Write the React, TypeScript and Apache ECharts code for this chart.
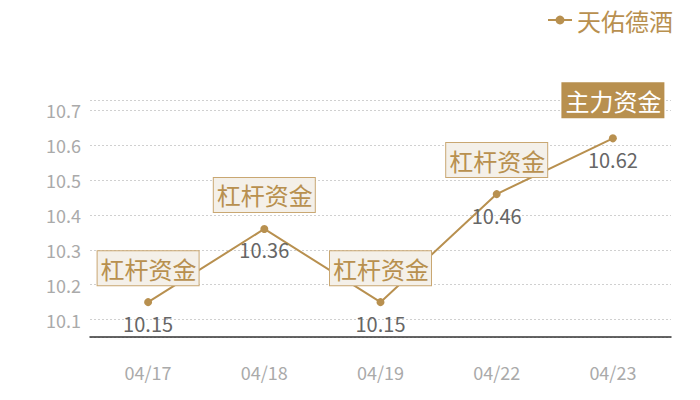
import React, { useEffect, useRef } from 'react'
import * as echarts from 'echarts'

const dates = ['04/17', '04/18', '04/19', '04/22', '04/23']
const prices = [10.15, 10.36, 10.15, 10.46, 10.62]
const flowTags = ['杠杆资金', '杠杆资金', '杠杆资金', '杠杆资金', '主力资金']
const seriesName = '天佑德酒'

const gold = '#b8904f'
const font = '"Noto Sans CJK SC", "Microsoft YaHei", sans-serif'

export default function App() {
  const chartRef = useRef<HTMLDivElement>(null)

  useEffect(() => {
    if (!chartRef.current) {
      return
    }
    const chart = echarts.init(chartRef.current, null, { renderer: 'svg' })

    const markData = flowTags.map((tag, i) => {
      const main = tag === '主力资金'
      return {
        name: tag,
        coord: [dates[i], prices[i]],
        symbolSize: 0,
        label: {
          show: true,
          position: 'top',
          distance: main ? 21 : 17,
          formatter: '{b}',
          fontFamily: font,
          fontSize: 24,
          lineHeight: 28,
          color: main ? '#ffffff' : gold,
          backgroundColor: main ? gold : '#f4f0e9',
          borderColor: main ? gold : '#c9a772',
          borderWidth: 1,
          padding: [3, 2, 3, 3]
        }
      }
    })

    const option = {
      animation: false,
      textStyle: { fontFamily: font },
      legend: {
        right: 22,
        top: 3,
        itemWidth: 24,
        itemHeight: 11,
        itemGap: 5,
        data: [seriesName],
        textStyle: {
          color: gold,
          fontSize: 24,
          fontFamily: font
        }
      },
      grid: {
        left: 90,
        right: 29,
        top: 100,
        bottom: 63
      },
      xAxis: {
        type: 'category',
        data: dates,
        axisLine: {
          lineStyle: { color: '#333333', width: 1.5 }
        },
        axisTick: { show: false },
        axisLabel: {
          color: '#aaaaaa',
          fontSize: 18,
          margin: 26,
          fontFamily: font
        }
      },
      yAxis: {
        type: 'value',
        min: 10.05,
        max: 10.73,
        axisLine: { show: false },
        axisTick: { show: false },
        axisLabel: {
          color: '#aaaaaa',
          fontSize: 18,
          margin: 9,
          showMinLabel: false,
          showMaxLabel: false,
          fontFamily: font
        },
        splitLine: {
          lineStyle: { color: '#d0d0d0', type: [2, 2], width: 1 }
        }
      },
      series: [
        {
          name: seriesName,
          type: 'line',
          data: prices,
          symbol: 'circle',
          symbolSize: 8,
          itemStyle: { color: gold },
          lineStyle: { color: gold, width: 2 },
          label: {
            show: true,
            position: 'bottom',
            distance: 7,
            color: '#666666',
            fontSize: 20,
            fontFamily: font
          },
          markPoint: {
            symbol: 'circle',
            symbolSize: 0,
            data: markData
          }
        }
      ]
    }

    chart.setOption(option)

    return () => {
      chart.dispose()
    }
  }, [])

  return (
    <div
      ref={chartRef}
      style={{ position: 'fixed', left: 0, top: 0, width: 700, height: 400, background: '#ffffff' }}
    />
  )
}
